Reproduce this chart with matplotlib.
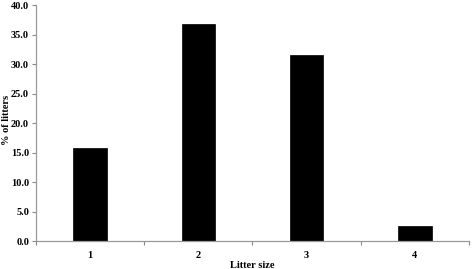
import matplotlib
matplotlib.use("Agg")
import matplotlib.pyplot as plt
from matplotlib.ticker import FixedLocator, FormatStrFormatter

# data
litter_size = [1, 2, 3, 4]
pct_litters = [15.8, 36.8, 31.6, 2.6]
y_ticks = [0, 5, 10, 15, 20, 25, 30, 35, 40]

plt.rcParams['font.family'] = ['Liberation Serif', 'DejaVu Serif']
plt.rcParams['font.weight'] = 'bold'

fig = plt.figure(figsize=(4.72, 2.69), dpi=100)
ax = fig.add_axes([0.0763, 0.104, 0.917, 0.877])

ax.bar(litter_size, pct_litters, width=0.31, color='black', edgecolor='black', linewidth=0.5)

ax.set_xlim(0.5, 4.5)
ax.set_ylim(0, 40)
ax.set_yticks(y_ticks)
ax.yaxis.set_major_formatter(FormatStrFormatter('%.1f'))
ax.set_xticks(litter_size)
ax.set_xticklabels([str(v) for v in litter_size])
ax.xaxis.set_minor_locator(FixedLocator([0.5, 1.5, 2.5, 3.5, 4.5]))

ax.tick_params(axis='x', which='major', length=0, pad=7, labelsize=7.5)
ax.tick_params(axis='x', which='minor', length=3, color='#888888', width=0.8, direction='out')
ax.tick_params(axis='y', length=3, color='#888888', width=0.8, direction='out', labelsize=7.5, pad=2)

for side in ['top', 'right']:
    ax.spines[side].set_visible(False)
for side in ['left', 'bottom']:
    ax.spines[side].set_color('#999999')
    ax.spines[side].set_linewidth(0.9)

ax.set_xlabel('Litter size', fontsize=7.5, fontweight='bold', labelpad=1)
ax.set_ylabel('% of litters', fontsize=7.5, fontweight='bold', va='center')
ax.yaxis.set_label_coords(-0.069, 0.515)

fig.savefig('out.png', dpi=100)
